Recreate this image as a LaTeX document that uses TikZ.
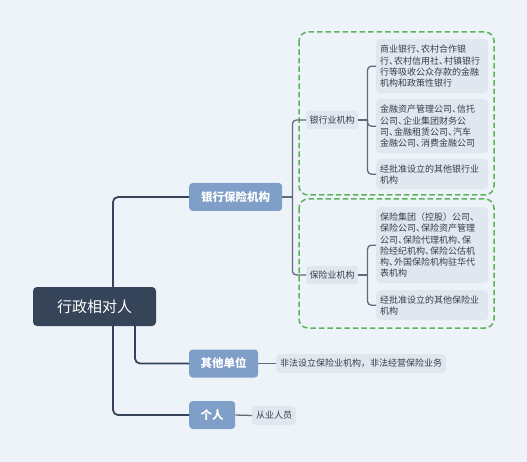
\documentclass[tikz,border=0pt]{standalone}
\usepackage{fontspec}
\setmainfont{Noto Sans CJK SC}
\usetikzlibrary{positioning}
\definecolor{bgc}{HTML}{EEF3F9}
\definecolor{rootc}{HTML}{354458}
\definecolor{bluec}{HTML}{7F9FC8}
\definecolor{leafc}{HTML}{E1E7EF}
\definecolor{txtc}{HTML}{353E4B}
\definecolor{linec}{HTML}{5F6B7A}
\definecolor{greenc}{HTML}{5DB35B}
\newcommand\dun{\makebox[0.55em][l]{、}}
\tikzset{
  rootbox/.style={fill=rootc, text=white, rounded corners=4pt, font=\fontsize{15}{18}\selectfont, minimum width=123pt, minimum height=39pt, inner sep=0pt},
  bluebox/.style={fill=bluec, text=white, rounded corners=3.5pt, font=\fontsize{11.5}{14}\bfseries\selectfont, minimum height=28pt, inner sep=0pt},
  midbox/.style={fill=leafc, text=txtc, rounded corners=3pt, font=\fontsize{9}{11}\selectfont, minimum width=52pt, minimum height=18pt, inner sep=0pt},
  leafbox/.style={fill=leafc, text=txtc, rounded corners=4pt, font=\fontsize{9}{11.2}\selectfont, text width=104pt, inner xsep=4pt, inner ysep=0pt, align=left, anchor=north west},
  smallleaf/.style={fill=leafc, text=txtc, rounded corners=4pt, font=\fontsize{9}{11}\selectfont, minimum height=19pt, inner xsep=4pt, inner ysep=0pt, anchor=west},
  mainline/.style={draw=rootc, line width=1.8pt, rounded corners=5pt},
  subline/.style={draw=linec, line width=1.3pt, rounded corners=4pt},
  groupbox/.style={draw=greenc, line width=1.5pt, dash pattern=on 5.5pt off 3pt, rounded corners=9pt}
}
\begin{document}
\begin{tikzpicture}[x=1pt,y=-1pt]
\useasboundingbox (0,0) rectangle (527,462);
\fill[bgc] (0,0) rectangle (527,462);

% group frames
\draw[groupbox] (299,32) rectangle (494,195);
\draw[groupbox] (299,199) rectangle (494,328);

% root
\node[rootbox] (r) at (94.5,306.5) {行政相对人};

% level 1
\node[bluebox, minimum width=93pt, anchor=west] (b) at (189,197) {银行保险机构};
\node[bluebox, minimum width=69pt, anchor=west] (o) at (189,363.5) {其他单位};
\node[bluebox, minimum width=46pt, anchor=west] (g) at (189,415) {个人};

% level 2
\node[midbox, anchor=west] (bank) at (306,120) {银行业机构};
\node[midbox, anchor=west] (ins) at (306,275) {保险业机构};

% leaves
\node[leafbox, minimum height=54pt] (l1) at (376,39) {商业银行\dun 农村合作银\\行\dun 农村信用社\dun 村镇银行\\行等吸收公众存款的金融\\机构和政策性银行};
\node[leafbox, minimum height=54pt] (l2) at (376,99) {金融资产管理公司\dun 信托\\公司\dun 企业集团财务公\\司\dun 金融租赁公司\dun 汽车\\金融公司\dun 消费金融公司};
\node[leafbox, minimum height=30pt] (l3) at (376,159) {经批准设立的其他银行业\\机构};
\node[leafbox, minimum height=76pt] (l4) at (376,207) {保险集团（控股）公司\dun\\保险公司\dun 保险资产管理\\公司\dun 保险代理机构\dun 保\\险经纪机构\dun 保险公估机\\构\dun 外国保险机构驻华代\\表机构};
\node[leafbox, minimum height=30pt] (l5) at (376,290) {经批准设立的其他保险业\\机构};
\node[smallleaf] (ol) at (276,363.5) {非法设立保险业机构，非法经营保险业务};
\node[smallleaf] (gl) at (252,415.5) {从业人员};

% main connectors
\draw[mainline] ([xshift=18.5pt]r.north) |- (b.west);
\draw[mainline] ([xshift=18.5pt]r.south) |- (g.west);
\draw[mainline] ([xshift=40.5pt]r.south) |- (o.west);

% level-1 to level-2
\draw[subline] (b.east) -- ++(10,0) coordinate (bj);
\draw[subline] (bj) |- (bank.west);
\draw[subline] (bj) |- (ins.west);

% level-2 to leaves
\draw[subline] (bank.east) -- ++(9,0) coordinate (kj);
\draw[subline] (kj) |- (l1.west);
\draw[subline] (kj) |- (l2.west);
\draw[subline] (kj) |- (l3.west);
\draw[subline] (ins.east) -- ++(9,0) coordinate (ij);
\draw[subline] (ij) |- (l4.west);
\draw[subline] (ij) |- (l5.west);

\draw[subline] (o.east) -- (ol.west);
\draw[subline] (g.east) -- (gl.west);
\end{tikzpicture}
\end{document}
